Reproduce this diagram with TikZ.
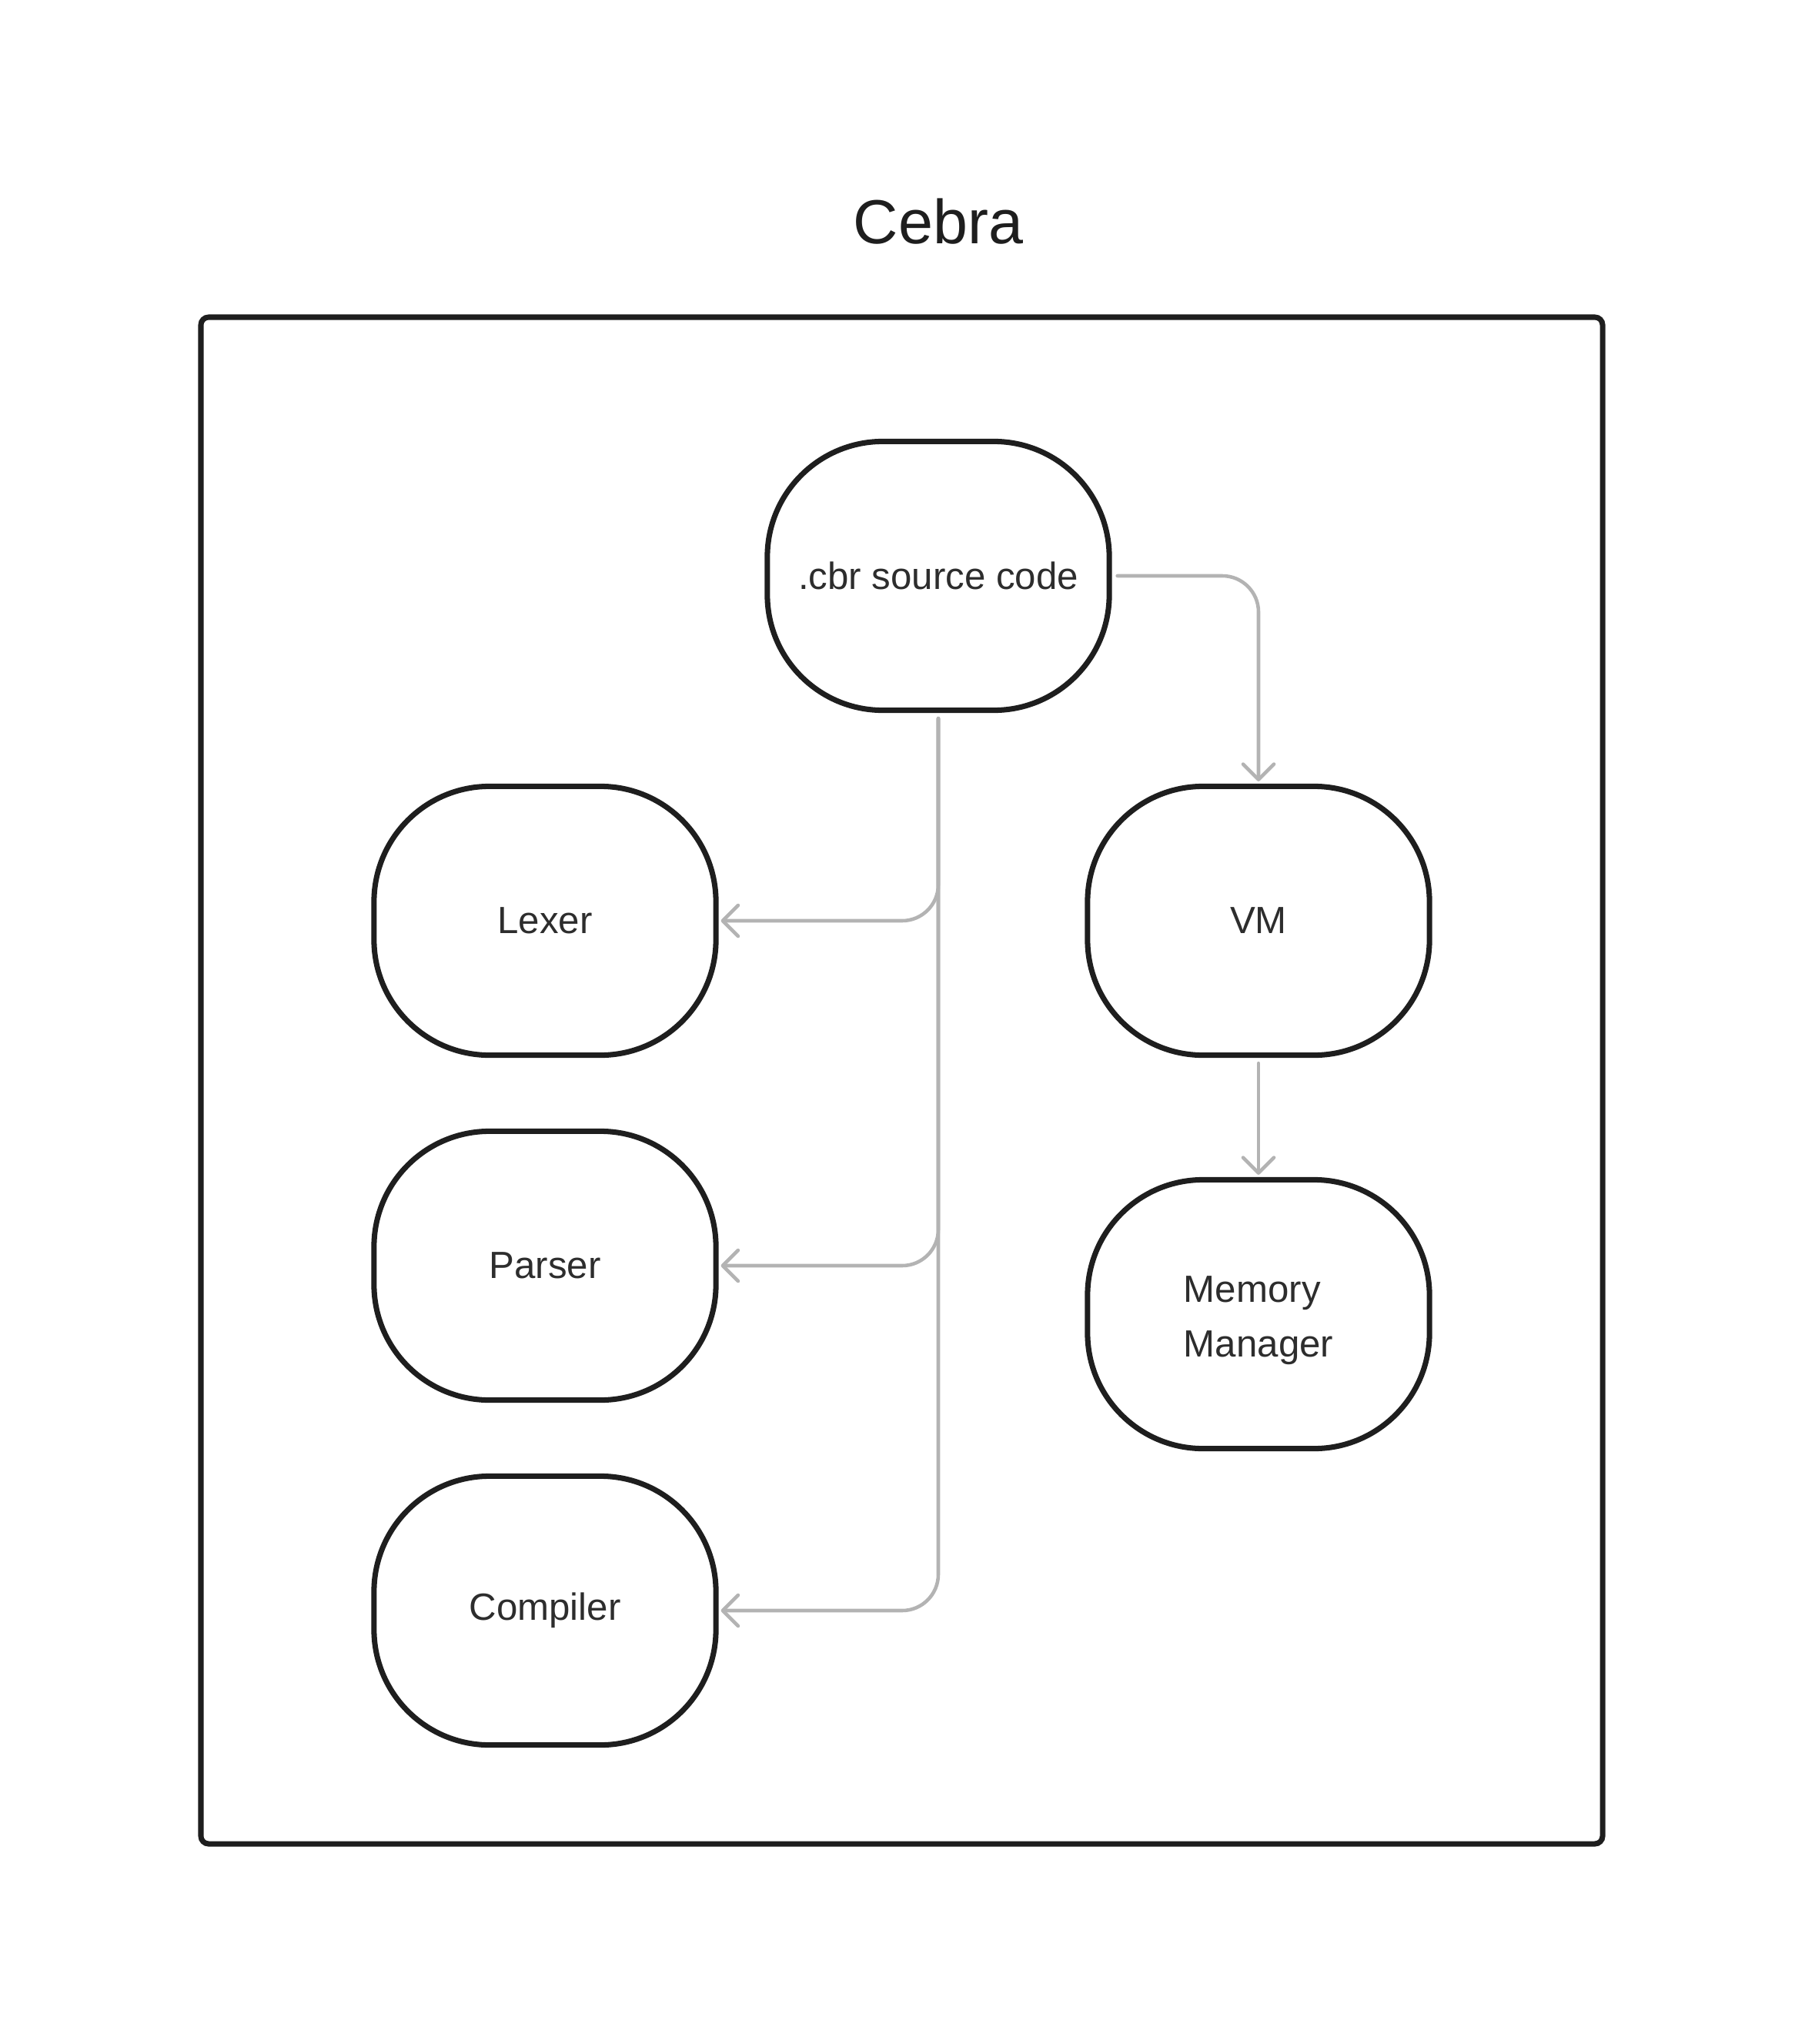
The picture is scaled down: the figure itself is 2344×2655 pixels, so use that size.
\documentclass[tikz,border=0pt]{standalone}
\usepackage{fontspec}
\setmainfont{Liberation Sans}
\usetikzlibrary{arrows.meta}
\definecolor{inkBlack}{HTML}{1E1E1E}
\definecolor{wireGray}{HTML}{B3B3B3}
\definecolor{labelText}{HTML}{2D2D2D}

\begin{document}
\begin{tikzpicture}[x=0.01cm, y=-0.01cm,
  stage/.style={draw=inkBlack, line width=2pt, rounded corners=1.5cm,
    minimum width=4.44cm, minimum height=3.49cm, text=labelText,
    font=\fontsize{14}{20.2}\selectfont, align=left},
  wire/.style={draw=wireGray, line width=1.3pt, rounded corners=0.47cm, line cap=round,
    -{Straight Barb[length=0.2cm, width=0.4cm, round]}, shorten <=0.07cm, shorten >=0.03cm}]
  \useasboundingbox (0,0) rectangle (2344,2655);
  % title and frame
  \node[text=inkBlack, font=\fontsize{23}{28}\selectfont] (title) at (1219,288) {Cebra};
  \draw[inkBlack, line width=2pt, rounded corners=0.1cm] (261,412) rectangle (2082,2395);
  % stages
  \node[stage] (src) at (1219,748) {.cbr source code};
  \node[stage] (lexer) at (708,1196) {Lexer};
  \node[stage] (parser) at (708,1644) {Parser};
  \node[stage] (compiler) at (708,2092) {Compiler};
  \node[stage] (vm) at (1635,1196) {VM};
  \node[stage, text height=1.22cm] (mem) at (1635,1707) {Memory\\Manager};
  % connectors
  \draw[wire] (src.east) -| (vm.north);
  \draw[wire] (src.south) |- (lexer.east);
  \draw[wire] (src.south) |- (parser.east);
  \draw[wire] (src.south) |- (compiler.east);
  \draw[wire] (vm) -- (mem);
\end{tikzpicture}
\end{document}
